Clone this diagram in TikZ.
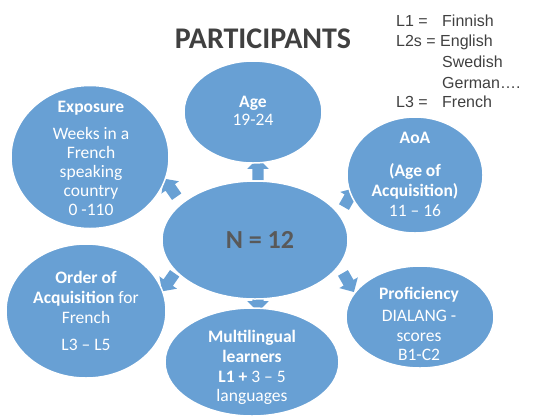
\documentclass[tikz,border=0pt]{standalone}
\usepackage{fontspec}
\setmainfont{Carlito}
\newfontfamily\legendfont{Liberation Sans}
\usetikzlibrary{shapes.geometric,shapes.arrows}
\definecolor{bubble}{RGB}{104,160,212}
\definecolor{ntext}{RGB}{89,89,89}
\definecolor{legtext}{RGB}{64,64,64}
\begin{document}
\begin{tikzpicture}[x=1pt,y=-1pt,
  bubble/.style={ellipse, fill=bubble, draw=white, line width=1.5pt, inner sep=0pt},
  btext/.style={text=white, align=center, inner sep=0pt, font=\fontsize{17.5}{20}\selectfont},
  barrow/.style={single arrow, fill=bubble, draw=none, inner sep=5.5pt,
    single arrow head extend=5pt, minimum height=22pt},
  legend/.style={anchor=base west, inner sep=0pt, text=legtext, font=\legendfont\fontsize{16}{20}\selectfont}]
\useasboundingbox (0,0) rectangle (540,416);

% block arrows (behind the bubbles)
\node[barrow, rotate=90]   (aup) at (258,172) {};
\node[barrow, rotate=-90]  (adn) at (258,298) {};
\node[barrow, rotate=125]  (aul) at (172,190) {};
\node[barrow, rotate=60]   (aur) at (348,200) {};
\node[barrow, rotate=-125] (all) at (170,280) {};
\node[barrow, rotate=-60]  (alr) at (347,280) {};

% bubbles
\node[bubble, minimum width=186pt, minimum height=118pt] (n)    at (255,240) {};
\node[bubble, minimum width=138pt, minimum height=102pt] (age)  at (253,112) {};
\node[bubble, minimum width=158pt, minimum height=143pt] (exp)  at (90,157) {};
\node[bubble, minimum width=136pt, minimum height=116pt] (aoa)  at (415,175) {};
\node[bubble, minimum width=160pt, minimum height=134pt] (ord)  at (86,311) {};
\node[bubble, minimum width=174pt, minimum height=108pt] (mul)  at (252,362) {};
\node[bubble, minimum width=148pt, minimum height=102pt] (pro)  at (420,317) {};

% texts
\node[text=ntext, font=\fontsize{26}{30}\selectfont\bfseries, inner sep=0pt] (nt) at (260,240) {N = 12};
\node[btext] (aget) at (253,111) {\textbf{Age}\\[-2pt]19-24};
\node[btext] (expt) at (91,158) {\textbf{Exposure}\\[7pt]Weeks in a\\[-1pt]French\\[-1pt]speaking\\[-1pt]country\\[-1pt]0 -110};
\node[btext] (aoat) at (415,174) {\textbf{AoA}\\[13pt]\textbf{(Age of}\\\textbf{Acquisition)}\\11 – 16};
\node[btext] (ordt) at (86,311) {\textbf{Order of}\\\textbf{Acquisition} for\\French\\[7pt]L3 – L5};
\node[btext] (prot) at (419,324) {\textbf{Proficiency}\\[2pt]DIALANG -\\scores\\[-1pt]B1-C2};
\node[btext] (mult) at (252,367) {\textbf{Multilingual}\\\textbf{learners}\\\textbf{L1 +} 3 – 5\\[-1pt]languages};

% title and legend
\node[text=legtext, font=\fontsize{30}{34}\selectfont\bfseries, inner sep=0pt] (title) at (263,39) {PARTICIPANTS};
\node[legend] (l1)  at (396,26)  {L1 =};
\node[legend] (l1v) at (442,26)  {Finnish};
\node[legend] (l2)  at (396,46)  {L2s = English};
\node[legend] (l2b) at (442,67)  {Swedish};
\node[legend] (l2c) at (442,88)  {German….};
\node[legend] (l3)  at (396,107) {L3 =};
\node[legend] (l3v) at (442,107) {French};
\end{tikzpicture}
\end{document}
